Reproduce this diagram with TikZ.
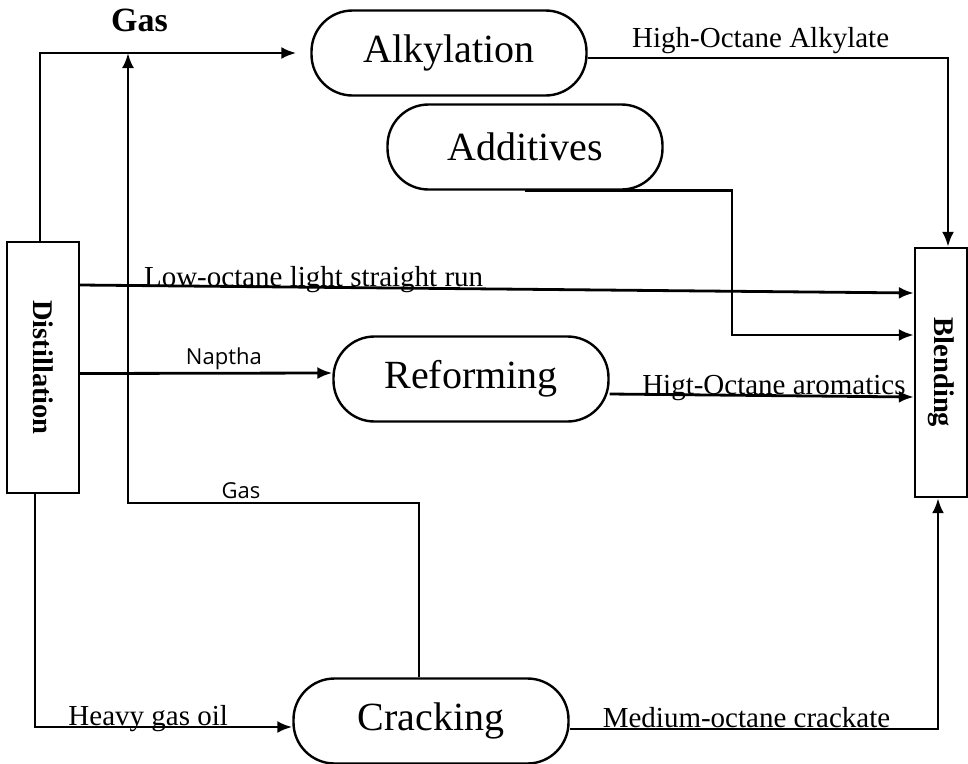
\documentclass[tikz,border=0pt]{standalone}
\usepackage{fontspec}
\setmainfont{Liberation Serif}
\newfontfamily\sanslbl{Open Sans}
\usetikzlibrary{positioning, arrows.meta}

\begin{document}
\begin{tikzpicture}[x=1pt, y=-1pt, line width=2.8pt, >={Latex[length=15pt,width=12pt]},
		process/.style={draw, line width=2.4pt, rounded corners=41pt, minimum width=275pt, minimum height=85pt, inner sep=0pt, font=\fontsize{40}{44}\selectfont},
		column/.style={draw, line width=2.4pt, inner sep=0pt, font=\bfseries\fontsize{28.5}{32}\selectfont},
		flow/.style={font=\fontsize{29}{32}\selectfont},
		flowsans/.style={font=\sanslbl\fontsize{22}{26}\selectfont, inner sep=2.5pt}]
			\useasboundingbox (0,0) rectangle (968,763);
			\node[column, minimum width=72pt, minimum height=251pt] (distil) at (43, 367.5) {\rotatebox{-90}{Distillation}};
			\node[column, minimum width=52pt, minimum height=249pt] (blend)  at (941, 372.5) {\rotatebox{-90}{Blending}};
			\node[process] (alky)   at (449, 53)  {Alkylation};
			\node[process] (addit)  at (525, 147) {Additives};
			\node[process] (reform) at (471, 379) {Reforming};
			\node[process] (crack)  at (431, 721) {Cracking};
			\coordinate (gasturn) at (128, 503);
			\coordinate (addturn) at (732, 335);
			\draw [->, shorten >=14pt] ([xshift=-3pt]distil.north) |- (alky.west)
				node[pos=0.684, above=16pt, font=\bfseries\fontsize{34}{38}\selectfont] {Gas};
			\draw [->] ([xshift=-12pt]crack.north) |- (gasturn) node[flowsans, pos=0.806, above] {Gas}
				-- (gasturn |- alky.west);
			\draw [->] ([yshift=-5pt]alky.east) -| ([xshift=7pt]blend.north)
				node[flow, pos=0.24, above] {High-Octane Alkylate};
			\draw [->] (addit.south) -- (addturn |- addit.south) -- (addturn) -- (addturn -| blend.west);
			\draw [->] ([yshift=82.5pt]distil.east) -- ([yshift=79.5pt]blend.west)
				node[flow, pos=0.28, anchor=base, yshift=1pt] {Low-octane light straight run};
			\draw [->] ([yshift=-6pt]distil.east) -- ([yshift=6pt]reform.west)
				node[flowsans, pos=0.57, above] {Naptha};
			\draw [->] ([yshift=-15pt]reform.east) -- ([yshift=-24.5pt]blend.west)
				node[flow, pos=0.54, anchor=base, yshift=1pt] {Higt-Octane aromatics};
			\draw [->] ([xshift=-8pt]distil.south) |- ([yshift=-6pt]crack.west)
				node[flow, pos=0.72, anchor=base, yshift=2pt] {Heavy gas oil};
			\draw [->] ([yshift=-8pt]crack.east) -| ([xshift=-3pt]blend.south)
				node[flow, pos=0.24, anchor=base, yshift=2pt] {Medium-octane crackate};
		\end{tikzpicture}
\end{document}
